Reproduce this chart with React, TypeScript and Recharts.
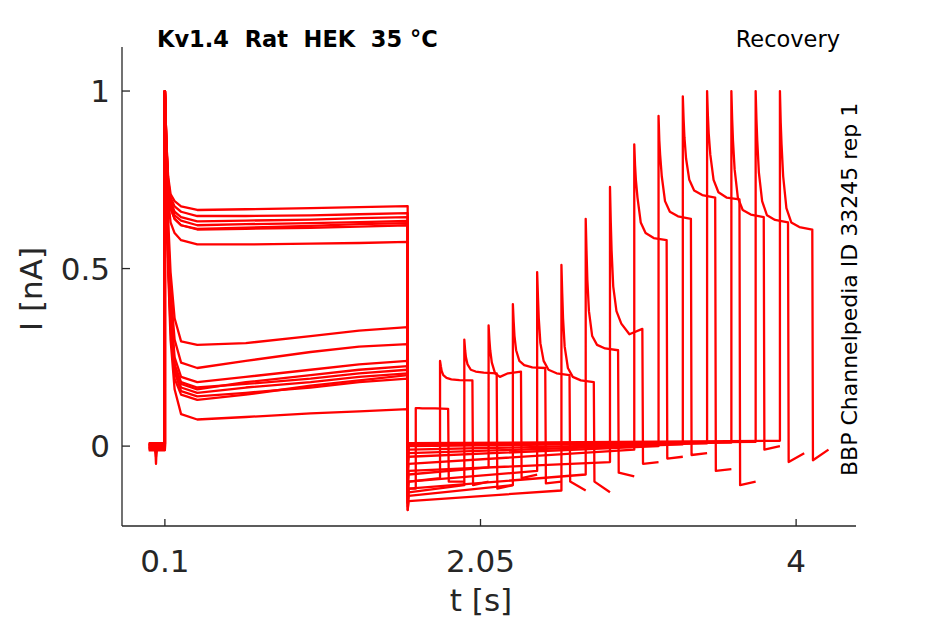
import { LineChart, Line, XAxis, YAxis } from 'recharts'

// protocol timing [s]
const FIRST_ON = 0.1
const FIRST_OFF = 1.6
const PULSE2_LEN = 0.2
const TAIL_LEN = 0.1
const SECOND_START = [1.65, 1.8, 1.95, 2.1, 2.25, 2.4, 2.55, 2.7, 2.85, 3.0, 3.15, 3.3, 3.45, 3.6, 3.75, 3.9]

const X_TICKS = [0.1, 2.05, 4]
const Y_TICKS = [0, 0.5, 1]

// holding current before the first pulse
const BASE = [0.004, -0.006, 0.002, -0.01, 0.006, -0.004, 0.0, -0.012, 0.008, -0.002, 0.004, -0.008, 0.002, -0.005, 0.006, -0.003]
const BASE_DIP = [-0.05, -0.03, 0, -0.02, 0, 0, 0, 0, 0, 0, 0, 0, 0, 0, 0, 0]

// first pulse, sampled at FIRST_T
const FIRST_T = [0.1, 0.105, 0.11, 0.12, 0.135, 0.16, 0.2, 0.3, 0.6, 1.0, 1.3, 1.6]
const FIRST_I = [
  [1.0, 0.86, 0.72, 0.5, 0.3, 0.16, 0.09, 0.075, 0.082, 0.092, 0.098, 0.104],
  [1.0, 0.87, 0.74, 0.53, 0.35, 0.21, 0.155, 0.14, 0.15, 0.165, 0.18, 0.19],
  [1.0, 0.87, 0.74, 0.52, 0.33, 0.19, 0.145, 0.13, 0.145, 0.17, 0.185, 0.2],
  [1.0, 0.87, 0.74, 0.53, 0.36, 0.22, 0.165, 0.15, 0.165, 0.18, 0.195, 0.205],
  [1.0, 0.88, 0.75, 0.55, 0.38, 0.23, 0.18, 0.165, 0.175, 0.19, 0.205, 0.215],
  [1.0, 0.88, 0.75, 0.55, 0.37, 0.22, 0.175, 0.16, 0.18, 0.2, 0.215, 0.225],
  [1.0, 0.88, 0.76, 0.57, 0.4, 0.25, 0.195, 0.18, 0.195, 0.215, 0.23, 0.24],
  [1.0, 0.89, 0.78, 0.6, 0.44, 0.3, 0.235, 0.22, 0.24, 0.265, 0.28, 0.287],
  [1.0, 0.9, 0.8, 0.64, 0.49, 0.36, 0.295, 0.285, 0.29, 0.31, 0.325, 0.335],
  [1.0, 0.91, 0.82, 0.7, 0.63, 0.6, 0.58, 0.568, 0.568, 0.57, 0.572, 0.575],
  [1.0, 0.92, 0.84, 0.73, 0.67, 0.64, 0.622, 0.612, 0.615, 0.62, 0.625, 0.628],
  [1.0, 0.92, 0.85, 0.76, 0.71, 0.69, 0.675, 0.665, 0.667, 0.67, 0.673, 0.676],
  [1.0, 0.92, 0.85, 0.75, 0.7, 0.675, 0.66, 0.648, 0.648, 0.65, 0.653, 0.656],
  [1.0, 0.92, 0.84, 0.74, 0.69, 0.66, 0.645, 0.633, 0.635, 0.638, 0.642, 0.645],
  [1.0, 0.92, 0.84, 0.74, 0.68, 0.65, 0.635, 0.622, 0.625, 0.628, 0.631, 0.634],
  [1.0, 0.91, 0.83, 0.73, 0.67, 0.64, 0.622, 0.61, 0.612, 0.615, 0.618, 0.622],
]

// interval between pulses
const OFF_DIP = [-0.16, -0.14, -0.17, -0.12, -0.18, -0.14, -0.18, -0.16, -0.11, -0.09, -0.07, -0.06, -0.05, -0.04, -0.035, -0.03]
const HOLD_START = [-0.12, -0.1, -0.13, -0.08, -0.14, -0.1, -0.155, -0.12, -0.07, -0.05, -0.03, -0.02, -0.01, 0.0, 0.005, 0.008]
const HOLD_END = [-0.12, -0.09, -0.11, -0.06, -0.11, -0.07, -0.125, -0.08, -0.045, -0.01, 0.0, 0.005, 0.008, 0.01, 0.012, 0.015]

// second pulse, sampled at SECOND_START + SECOND_DT
const SECOND_DT = [0, 0.005, 0.01, 0.02, 0.04, 0.07, 0.12, 0.2]
const SECOND_I = [
  [0.107, 0.107, 0.107, 0.107, 0.106, 0.106, 0.106, 0.105],
  [0.24, 0.225, 0.212, 0.2, 0.192, 0.188, 0.186, 0.185],
  [0.3, 0.27, 0.25, 0.23, 0.215, 0.21, 0.207, 0.205],
  [0.34, 0.3, 0.27, 0.235, 0.205, 0.195, 0.205, 0.21],
  [0.4, 0.35, 0.31, 0.27, 0.24, 0.228, 0.222, 0.22],
  [0.49, 0.42, 0.36, 0.29, 0.24, 0.215, 0.205, 0.2],
  [0.51, 0.43, 0.36, 0.28, 0.22, 0.195, 0.185, 0.18],
  [0.64, 0.55, 0.47, 0.38, 0.31, 0.285, 0.275, 0.27],
  [0.73, 0.63, 0.55, 0.45, 0.38, 0.345, 0.315, 0.33],
  [0.85, 0.79, 0.75, 0.7, 0.63, 0.6, 0.586, 0.58],
  [0.93, 0.86, 0.82, 0.76, 0.69, 0.66, 0.647, 0.64],
  [0.985, 0.92, 0.87, 0.81, 0.75, 0.72, 0.707, 0.7],
  [1.0, 0.93, 0.88, 0.82, 0.75, 0.715, 0.7, 0.695],
  [1.0, 0.92, 0.86, 0.78, 0.7, 0.665, 0.652, 0.645],
  [1.0, 0.92, 0.86, 0.77, 0.69, 0.65, 0.637, 0.63],
  [1.0, 0.91, 0.85, 0.76, 0.67, 0.63, 0.617, 0.61],
]

// back at holding after the second pulse
const TAIL_START = [-0.1, -0.11, -0.12, -0.09, -0.105, -0.1, -0.1, -0.075, -0.05, -0.035, -0.025, -0.07, -0.11, -0.01, -0.045, -0.04]
const TAIL_END = [-0.1, -0.1, -0.11, -0.08, -0.1, -0.125, -0.13, -0.085, -0.045, -0.03, -0.02, -0.065, -0.1, 0.0, -0.02, -0.01]

type Pt = { t: number; i: number }

function sweep(k: number): Pt[] {
  const pts: Pt[] = [{ t: 0, i: BASE[k] }]
  if (BASE_DIP[k] !== 0) {
    pts.push({ t: 0.04, i: BASE[k] }, { t: 0.045, i: BASE_DIP[k] }, { t: 0.05, i: BASE[k] })
  }
  pts.push({ t: FIRST_ON, i: BASE[k] })
  FIRST_T.forEach((t, j) => pts.push({ t, i: FIRST_I[k][j] }))
  pts.push({ t: FIRST_OFF, i: OFF_DIP[k] }, { t: FIRST_OFF + 0.006, i: HOLD_START[k] })
  const s = SECOND_START[k]
  pts.push({ t: s, i: HOLD_END[k] })
  SECOND_DT.forEach((dt, j) => pts.push({ t: s + dt, i: SECOND_I[k][j] }))
  const e = s + PULSE2_LEN
  pts.push({ t: e + 0.004, i: TAIL_START[k] }, { t: e + TAIL_LEN, i: TAIL_END[k] })
  return pts
}

const sweeps = SECOND_START.map((_, k) => sweep(k))

const INK = '#262626'
const FONT = 'DejaVu Sans, sans-serif'

export default function App() {
  return (
    <div style={{ position: 'absolute', left: 0, top: 0, width: 945, height: 624, background: '#fff' }}>
      <LineChart width={945} height={624} margin={{ top: 47, right: 89, bottom: 38, left: 42 }}>
        <XAxis
          dataKey="t" type="number" domain={[-0.165, 4.37]} ticks={X_TICKS} interval={0}
          allowDataOverflow height={60} tickSize={-7} tickMargin={31}
          tickFormatter={(v) => String(v)}
          tick={{ fontSize: 31, fill: INK, fontFamily: FONT }}
          axisLine={{ stroke: INK, strokeWidth: 1.3 }} tickLine={{ stroke: INK, strokeWidth: 1.3 }}
        />
        <YAxis
          type="number" domain={[-0.225, 1.124]} ticks={Y_TICKS} interval={0}
          allowDataOverflow width={80} tickSize={-8} tickMargin={20}
          tickFormatter={(v) => String(v)}
          tick={{ fontSize: 31, fill: INK, fontFamily: FONT }}
          axisLine={{ stroke: INK, strokeWidth: 1.3 }} tickLine={{ stroke: INK, strokeWidth: 1.3 }}
        />
        {sweeps.map((d, k) => (
          <Line key={k} data={d} dataKey="i" type="linear" stroke="#ff0000" strokeWidth={2.3}
            strokeLinejoin="round" dot={false} isAnimationActive={false} />
        ))}
      </LineChart>
      <svg width={945} height={624} style={{ position: 'absolute', left: 0, top: 0, pointerEvents: 'none' }}>
        <text x={157} y={47} fontSize={22.5} fontWeight="bold" fontFamily={FONT} fill="#000" style={{ whiteSpace: 'pre' }}>
          {'Kv1.4  Rat  HEK  35 °C'}
        </text>
        <text x={840} y={47} fontSize={22.5} fontFamily={FONT} fill="#000" textAnchor="end">Recovery</text>
        <text transform="translate(857, 476) rotate(-90)" fontSize={22} fontFamily={FONT} fill="#000">
          BBP Channelpedia ID 33245 rep 1
        </text>
        <text transform="translate(42, 289) rotate(-90)" fontSize={31} fontFamily={FONT} fill={INK} textAnchor="middle">
          I [nA]
        </text>
        <text x={481} y={611} fontSize={31} fontFamily={FONT} fill={INK} textAnchor="middle">t [s]</text>
      </svg>
    </div>
  )
}
